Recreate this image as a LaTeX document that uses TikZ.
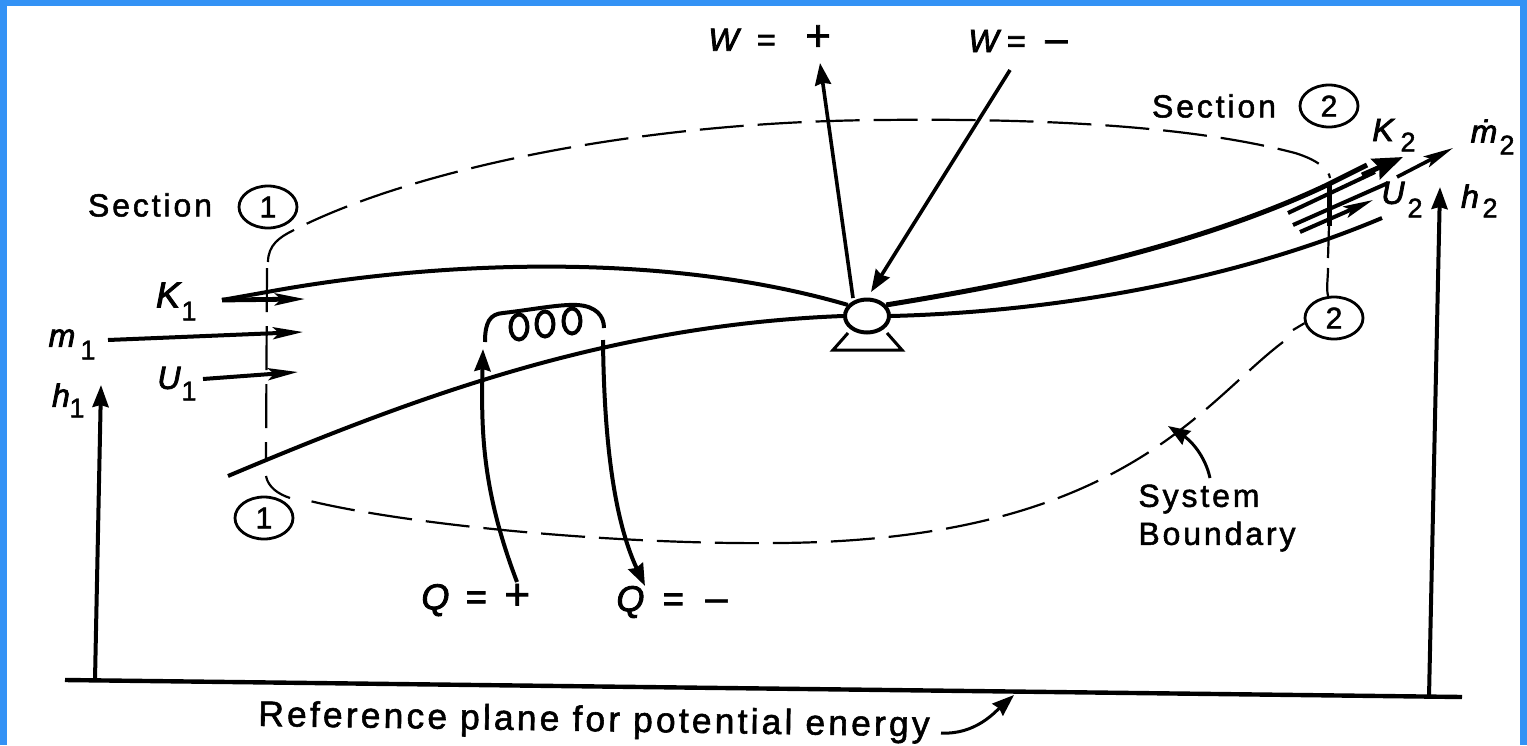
\documentclass[tikz,border=0pt]{standalone}
\usepackage{fontspec}
\setmainfont[LetterSpace=9,FakeBold=1.6]{Liberation Sans}
\newfontfamily\ital[LetterSpace=3,FakeBold=2.5]{Liberation Sans Italic}
\usetikzlibrary{arrows.meta,shapes.geometric}
\definecolor{frameblue}{HTML}{3392F5}
\tikzset{
  ink/.style={draw=black,line width=1.5pt},
  heavy ink/.style={draw=black,line width=2.5pt},
  bound/.style={draw=black,line width=1.1pt,dash pattern=on 22pt off 7pt},
  bound solid/.style={draw=black,line width=1.1pt},
  longtip/.style={-{Stealth[length=15pt,width=6pt,inset=3pt]}},
  bigtip/.style={-{Stealth[length=11pt,width=8pt,inset=1pt]}},
  lab/.style={font=\fontsize{16}{18}\selectfont,inner sep=0pt,text=black},
  sym/.style={font=\ital\fontsize{16}{18}\selectfont,inner sep=0pt,text=black},
  bigsym/.style={font=\ital\fontsize{18}{18}\selectfont,inner sep=0pt,text=black},
  subs/.style={font=\fontsize{13.5}{14}\selectfont,inner sep=0pt,text=black},
  ring/.style={draw=black,line width=1.4pt,ellipse,minimum width=29pt,minimum height=21pt,inner sep=0pt,font=\fontsize{15}{16}\selectfont},
  loop/.style={draw=black,line width=2pt,ellipse,minimum width=8.5pt,minimum height=12.5pt,inner sep=0pt}
}
\begin{document}
\begin{tikzpicture}[x=0.5pt,y=-0.5pt]
\useasboundingbox (0,0) rectangle (1527,745);
\fill[frameblue] (0,0) rectangle (1527,745);
\fill[white] (7,6) rectangle (1520,745);

% labels
\node[lab] (sec1) at (150,205) {Section};
\node[ring] (c1a) at (268,207) {1};
\node[ring] (c1b) at (264,518) {1};
\node[lab] (sec2) at (1214,106) {Section};
\node[ring] (c2a) at (1329,106) {2};
\node[ring] (c2b) at (1334,318) {2};
\node[bigsym] (k1) at (168,295) {K};
\node[subs] (k1s) at (189,311) {1};
\node[sym] (m1) at (62,338) {m};
\node[subs] (m1s) at (88,350) {1};
\node[sym] (u1) at (169,378) {U};
\node[subs] (u1s) at (189,391) {1};
\node[sym] (h1) at (61,395) {h};
\node[subs] (h1s) at (77,408) {1};
\node[sym] (k2) at (1383,130) {K};
\node[subs] (k2s) at (1408,142) {2};
\node[sym] (m2) at (1484,131) {\.m};
\node[subs] (m2s) at (1507,145) {2};
\node[sym] (u2) at (1393,193) {U};
\node[subs] (u2s) at (1415,208) {2};
\node[sym] (h2) at (1470,196) {h};
\node[subs] (h2s) at (1490,208) {2};
\node[sym,anchor=west] (wp) at (708,38) {W\hspace{9pt}=\hspace{15pt}\normalfont\fontsize{22}{22}\selectfont +};
\node[sym,anchor=west] (wm) at (968,41) {W\hspace{4pt}=\hspace{10pt}\normalfont\fontsize{20}{20}\selectfont –};
\node[bigsym,anchor=west] (qp) at (421,600) {Q\hspace{8pt}=\hspace{9pt}\normalfont\fontsize{22}{22}\selectfont +};
\node[bigsym,anchor=west] (qm) at (616,602) {Q\hspace{9pt}=\hspace{11pt}\normalfont\fontsize{20}{20}\selectfont –};
\node[lab,align=left,anchor=west] (sb) at (1138,518) {System\\[1pt]Boundary};
\node[lab,rotate=-0.9,font=\fontsize{17.7}{18}\selectfont] (ref) at (594,722) {Reference plane for potential energy};

% anchors
\coordinate (kst) at (222,300); \coordinate (ken) at (305,299);
\coordinate (mst) at (108,340); \coordinate (men) at (303,332);
\coordinate (ust) at (203,379); \coordinate (uen) at (298,372);
\coordinate (h1b) at (95,680); \coordinate (h1t) at (101,385);
\coordinate (h2b) at (1429,697); \coordinate (h2t) at (1440,187);
\coordinate (pl) at (65,680); \coordinate (pr) at (1462,697);
\coordinate (wpb) at (853,298); \coordinate (wpt) at (820,63);
\coordinate (wmt) at (1010,70); \coordinate (wmb) at (871,292);

% pump
\node[draw=black,line width=2pt,ellipse,minimum width=22pt,minimum height=16.5pt,inner sep=0pt,fill=white] (pump) at (867,316) {};
\coordinate (ba) at (848,333); \coordinate (bb) at (833,350); \coordinate (bc) at (902,350); \coordinate (bd) at (887,333);
\draw[ink] (ba) -- (bb) -- (bc) -- (bd);

% boundary
\draw[bound] (268,262) .. controls (268,245) and (280,237) .. (292,231)
  .. controls (400,175) and (620,122) .. (880,120)
  .. controls (1060,118) and (1200,128) .. (1295,153)
  .. controls (1318,160) and (1329,170) .. (1330,178);
\draw[bound] (267,268) -- (266,460);
\draw[heavy ink] (1329,185) -- (1329,226);
\draw[bound] (1329,226) -- (1328,258);
\draw[bound solid] (1328,268) .. controls (1328,280) and (1326,288) .. (c2b.105);
\draw[bound solid] (1293,330) -- (c2b.190);
\draw[bound] (1283,342) .. controls (1200,405) and (1120,540) .. (780,543)
  .. controls (620,545) and (400,525) .. (298,498);
\draw[bound solid] (266,476) .. controls (268,487) and (278,494) .. (290,498);

% streams
\draw[ink,line width=2pt] (kst) -- (267,292) .. controls (430,262) and (660,250) .. (pump.150);
\draw[heavy ink] (pump.30) .. controls (1040,280) and (1200,245) .. (1327,185) -- (1367,165);
\draw[ink,line width=2pt] (228,476) .. controls (420,395) and (610,325) .. (pump.180);
\draw[ink,line width=2pt] (pump.0) .. controls (1050,312) and (1230,282) .. (1382,218);

% small flow arrows
\draw[ink,line width=2.4pt,longtip] (kst) -- (ken);
\draw[ink,line width=2pt,longtip] (mst) -- (men);
\draw[ink,line width=2pt,longtip] (ust) -- (uen);
\draw[ink,line width=1.8pt,longtip] (1397,177) -- (1453,148);
\draw[heavy ink,-{Stealth[length=15pt,width=11pt,inset=2pt]}] (1362,175) -- (1403,157);
\draw[ink,line width=2pt] (1288,213) -- (1375,172);
\draw[ink,line width=2pt] (1293,225) -- (1388,183);
\draw[ink,line width=2pt,longtip] (1300,232) -- (1373,200);

% W arrows
\draw[ink,line width=1.8pt,bigtip] (wpb) -- (wpt);
\draw[ink,line width=1.8pt,bigtip] (wmt) -- (wmb);

% heat coil
\draw[ink,line width=2pt] (485,342) .. controls (485,322) and (490,314) .. (503,313)
  .. controls (530,310) and (560,304) .. (577,305) .. controls (596,306) and (604,316) .. (604,328);
\node[loop] (l1) at (519,327) {};
\node[loop] (l2) at (545,324) {};
\node[loop] (l3) at (572,321) {};
\draw[ink,line width=2pt,bigtip] (517,582) .. controls (482,490) and (481,430) .. (483,349);
\draw[ink,line width=2pt,bigtip] (603,340) .. controls (604,440) and (614,520) .. (645,586);

% h arrows and plane
\draw[ink,line width=2pt,bigtip] (h1b) -- (h1t);
\draw[ink,line width=2pt,bigtip] (h2b) -- (h2t);
\draw[ink,line width=2.2pt] (pl) -- (pr);
\draw[ink,bigtip] (941,733) .. controls (975,735) and (995,712) .. (1014,695);
\draw[ink,bigtip] (1210,478) .. controls (1205,455) and (1190,440) .. (1168,426);
\end{tikzpicture}
\end{document}
